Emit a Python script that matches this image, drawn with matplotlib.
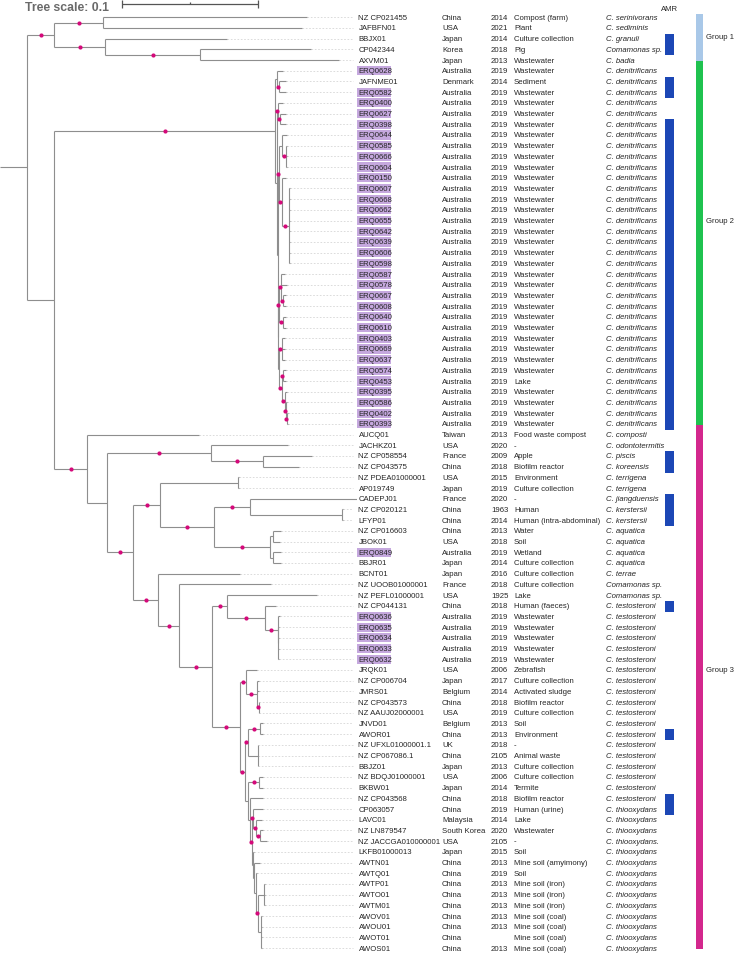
import matplotlib.pyplot as plt
from matplotlib.collections import LineCollection
from matplotlib.patches import Rectangle

plt.rcParams['font.family'] = ['Liberation Sans', 'DejaVu Sans']

# ---- tree (newick, branch lengths in substitutions/site, 100 = supported node) ----
group1_newick = ("((NZ_CP021455:0.1499,JAFBFN01:0.1463)100:0.0358,"
                 "(BBJX01:0.0897,(CP042344:0.0816,AXVM01:0.1022)100:0.0698)100:0.0373)100:0.0201")

group2_newick = (
    "((ERQ0628:0.0044,(JAFNME01:0.0049,ERQ0582:0.0049)100:0.0019):0.0010,"
    "((ERQ0400:0.0032,(ERQ0627:0.0044,ERQ0398:0.0044)100:0.0012)100:0.0012,"
    "(((ERQ0644:0.0037,(ERQ0585:0.0007,ERQ0666:0.0007,ERQ0604:0.0007)100:0.0032):0.0018,"
    "(ERQ0150:0.0032,(ERQ0607:0.0007,ERQ0668:0.0007,ERQ0662:0.0007,ERQ0655:0.0007,"
    "ERQ0642:0.0007,ERQ0639:0.0007,ERQ0606:0.0007,ERQ0598:0.0007)100:0.0054)100:0.0018)100:0.0012,"
    "(((ERQ0587:0.0029,ERQ0578:0.0044,(ERQ0667:0.0022,ERQ0608:0.0022)100:0.0018)100:0.0015,"
    "(ERQ0640:0.0020,ERQ0610:0.0020)100:0.0032)100:0.0007,"
    "((ERQ0403:0.0024,ERQ0669:0.0024,ERQ0637:0.0024)100:0.0018,"
    "((ERQ0574:0.0020,ERQ0453:0.0020)100:0.0012,"
    "(ERQ0395:0.0015,(ERQ0586:0.0011,(ERQ0402:0.0007,ERQ0393:0.0011)100:0.0007)100:0.0007)100:0.0024"
    ")100:0.0018):0.0010):0.0002):0.0007):0.0010)100:0.1624")

group3_newick = (
    "(AUCQ01:0.0819,("
    "(JACHKZ01:0.0564,(NZ_CP058554:0.0356,NZ_CP043575:0.0265)100:0.0382)100:0.0764,"
    "(("
    "(NZ_PDEA01000001:0.0007,AP019749:0.0007):0.0571,"
    "((CADEPJ01:0.0784,(NZ_CP020121:0.0006,LFYP01:0.0006):0.0674)100:0.0262,"
    "((NZ_CP016603:0.0061,JBOK01:0.0054):0.0020,(ERQ0849:0.0061,BBJR01:0.0061):0.0020)100:0.0409"
    ")100:0.0397)100:0.0199,"
    "(BCNT01:0.0601,(NZ_UOOB01000001:0.0674,(("
    "NZ_PEFL01000001:0.0657,(NZ_CP044131:0.0079,(ERQ0636:0.0017,(ERQ0635:0.0005,ERQ0634:0.0005,"
    "ERQ0633:0.0005,ERQ0632:0.0005):0.0004)100:0.0093)100:0.0277)100:0.0110,"
    "(("
    "JRQK01:0.0085,(NZ_CP006704:0.0015,JMRS01:0.0015,(NZ_CP043573:0.0007,NZ_AAUJ02000001:0.0007)100:0.0012)100:0.0081)100:0.0042,"
    "(("
    "(JNVD01:0.0022,AWOR01:0.0022)100:0.0093,(NZ_UFXL01000001.1:0.0003,NZ_CP067086.1:0.0003,BBJZ01:0.0003):0.0074)100:0.0022,"
    "((NZ_BDQJ01000001:0.0027,BKBW01:0.0027)100:0.0088,"
    "(NZ_CP043568:0.0099,("
    "(CP063057:0.0074,(LAVC01:0.0042,(NZ_LN879547:0.0022,NZ_JACCGA010000001:0.0051)100:0.0027)100:0.0024)100:0.0011,"
    "(LKFB01000013:0.0007,(AWTN01:0.0048,(AWTQ01:0.0007,((AWTP01:0.0005,AWTO01:0.0005,AWTM01:0.0005):0.0046,"
    "(AWOV01:0.0004,AWOU01:0.0004,AWOT01:0.0004,AWOS01:0.0004):0.0022)100:0.0015):0.0018):0.0007):0.0007"
    ")100:0.0016):0.0015):0.0022"
    ")100:0.0032)100:0.0204"
    ")100:0.0245)100:0.0152)100:0.0184"
    ")100:0.0191):0.0147)100:0.0243")

tree_newick = "(" + group1_newick + ",(" + group2_newick + "," + group3_newick + "):0.0201):0.0199;"

# ---- metadata, one entry per leaf (top to bottom) ----
ids = ["NZ CP021455", "JAFBFN01", "BBJX01", "CP042344", "AXVM01",
       "ERQ0628", "JAFNME01", "ERQ0582", "ERQ0400", "ERQ0627", "ERQ0398", "ERQ0644",
       "ERQ0585", "ERQ0666", "ERQ0604", "ERQ0150", "ERQ0607", "ERQ0668", "ERQ0662",
       "ERQ0655", "ERQ0642", "ERQ0639", "ERQ0606", "ERQ0598", "ERQ0587", "ERQ0578",
       "ERQ0667", "ERQ0608", "ERQ0640", "ERQ0610", "ERQ0403", "ERQ0669", "ERQ0637",
       "ERQ0574", "ERQ0453", "ERQ0395", "ERQ0586", "ERQ0402", "ERQ0393",
       "AUCQ01", "JACHKZ01", "NZ CP058554", "NZ CP043575", "NZ PDEA01000001", "AP019749",
       "CADEPJ01", "NZ CP020121", "LFYP01", "NZ CP016603", "JBOK01", "ERQ0849", "BBJR01",
       "BCNT01", "NZ UOOB01000001", "NZ PEFL01000001", "NZ CP044131", "ERQ0636", "ERQ0635",
       "ERQ0634", "ERQ0633", "ERQ0632", "JRQK01", "NZ CP006704", "JMRS01", "NZ CP043573",
       "NZ AAUJ02000001", "JNVD01", "AWOR01", "NZ UFXL01000001.1", "NZ CP067086.1", "BBJZ01",
       "NZ BDQJ01000001", "BKBW01", "NZ CP043568", "CP063057", "LAVC01", "NZ LN879547",
       "NZ JACCGA010000001", "LKFB01000013", "AWTN01", "AWTQ01", "AWTP01", "AWTO01",
       "AWTM01", "AWOV01", "AWOU01", "AWOT01", "AWOS01"]

countries = (["China", "USA", "Japan", "Korea", "Japan", "Australia", "Denmark"]
             + ["Australia"] * 32
             + ["Taiwan", "USA", "France", "China", "USA", "Japan", "France", "China", "China",
                "China", "USA", "Australia", "Japan", "Japan", "France", "USA", "China"]
             + ["Australia"] * 5
             + ["USA", "Japan", "Belgium", "China", "USA", "Belgium", "China", "UK", "China",
                "Japan", "USA", "Japan", "China", "China", "Malaysia", "South Korea", "USA", "Japan"]
             + ["China"] * 9)

years = (["2014", "2021", "2014", "2018", "2013", "2019", "2014"] + ["2019"] * 32
         + ["2013", "2020", "2009", "2018", "2015", "2019", "2020", "1963", "2014", "2013",
            "2018", "2019", "2014", "2016", "2018", "1925", "2018"] + ["2019"] * 5
         + ["2006", "2017", "2014", "2018", "2019", "2013", "2013", "2018", "2105", "2013",
            "2006", "2014", "2018", "2019", "2014", "2020", "2105", "2015", "2013", "2019",
            "2013", "2013", "2013", "2013", "2013", "", "2013"])

sources = (["Compost (farm)", "Plant", "Culture collection", "Pig", "Wastewater", "Wastewater",
            "Sediment"] + ["Wastewater"] * 27 + ["Lake"] + ["Wastewater"] * 4
           + ["Food waste compost", "-", "Apple", "Biofilm reactor", "Environment",
              "Culture collection", "-", "Human", "Human (intra-abdominal)", "Water", "Soil",
              "Wetland", "Culture collection", "Culture collection", "Culture collection", "Lake",
              "Human (faeces)"] + ["Wastewater"] * 5
           + ["Zebrafish", "Culture collection", "Activated sludge", "Biofilm reactor",
              "Culture collection", "Soil", "Environment", "-", "Animal waste", "Culture collection",
              "Culture collection", "Termite", "Biofilm reactor", "Human (urine)", "Lake",
              "Wastewater", "-", "Soil", "Mine soil (amyimony)", "Soil"]
           + ["Mine soil (iron)"] * 3 + ["Mine soil (coal)"] * 4)

species = (["C. serinivorans", "C. sediminis", "C. granuli", "Comamonas sp.", "C. badia"]
           + ["C. denitrificans"] * 34
           + ["C. composti", "C. odontotermitis", "C. piscis", "C. koreensis", "C. terrigena",
              "C. terrigena", "C. jiangduensis", "C. kerstersii", "C. kerstersii"]
           + ["C. aquatica"] * 4 + ["C. terrae", "Comamonas sp.", "Comamonas sp."]
           + ["C. testosteroni"] * 19 + ["C. thiooxydans"] * 3 + ["C. thiooxydans."]
           + ["C. thiooxydans"] * 10)

amr = ([0, 0, 1, 1, 0, 0, 1, 1, 0, 0]
       + [1] * 10
       + [1] * 10
       + [1, 1, 1, 1, 1, 1, 1, 1, 1, 0]
       + [0, 1, 1, 0, 0, 1, 1, 1, 0, 0]
       + [0, 0, 0, 0, 0, 1, 0, 0, 0, 0]
       + [0, 0, 0, 0, 0, 0, 0, 1, 0, 0]
       + [0, 0, 0, 1, 1, 0, 0, 0, 0, 0]
       + [0] * 8)

group_names = ["Group 1", "Group 2", "Group 3"]
group_sizes = [5, 34, 49]
group_colors = ["#a9c8e8", "#1fc24f", "#d3288d"]
tree_scale = 0.1


def parse_newick(s):
    pos = 0

    def node():
        nonlocal pos
        children = []
        if s[pos] == "(":
            pos += 1
            children.append(node())
            while s[pos] == ",":
                pos += 1
                children.append(node())
            pos += 1
        start = pos
        while s[pos] not in ":,);":
            pos += 1
        label = s[start:pos]
        length = 0.0
        if s[pos] == ":":
            pos += 1
            start = pos
            while s[pos] not in ",);":
                pos += 1
            length = float(s[start:pos])
        return {"label": label, "length": length, "children": children}

    return node()


root = parse_newick(tree_newick)
leaves = []
nodes = []


def layout(n, x0):
    n["x0"] = x0
    n["x"] = x0 + n["length"]
    nodes.append(n)
    if n["children"]:
        for c in n["children"]:
            layout(c, n["x"])
        n["y"] = (n["children"][0]["y"] + n["children"][-1]["y"]) / 2
    else:
        n["y"] = len(leaves)
        leaves.append(n)


layout(root, 0.0)
assert [lf["label"].replace("_", " ") for lf in leaves] == ids

# ---- figure ----
W, H = 734, 954
fig = plt.figure(figsize=(W / 100, H / 100), dpi=100)
row_top, row_bottom = -1.71, 87.45

ax = fig.add_axes([0, 0, 1, 1])
ax.set_xlim(0, W)
ax.set_ylim(row_bottom, row_top)
ax.axis("off")

tree_px = 357
tax = fig.add_axes([0, 0, tree_px / W, 1])
tax.set_xlim(0, 0.2625)
tax.set_ylim(row_bottom, row_top)
tax.axis("off")

branch_col = "#8e8e8e"
segs = []
dots = []
for n in nodes:
    segs.append([(n["x0"], n["y"]), (n["x"], n["y"])])
    if n["children"]:
        segs.append([(n["x"], n["children"][0]["y"]), (n["x"], n["children"][-1]["y"])])
        if n["label"] == "100":
            dots.append(((n["x0"] + n["x"]) / 2, n["y"]))
tax.add_collection(LineCollection(segs, colors=branch_col, linewidths=0.8, zorder=2))

# leader lines from tips to labels
lead = [[(lf["x"], lf["y"]), (0.2598, lf["y"])] for lf in leaves if lf["x"] < 0.2595]
tax.add_collection(LineCollection(lead, colors="#d6d6d6", linewidths=0.6,
                                  linestyles=(0, (2.0, 2.0)), zorder=1))
tax.scatter([d[0] for d in dots], [d[1] for d in dots], s=9, color="#d4097a",
            zorder=3, linewidths=0)

# scale bar
sb_x0, sb_y = 0.0897, -1.24
sb = [[(sb_x0, sb_y), (sb_x0 + tree_scale, sb_y)],
      [(sb_x0, -1.58), (sb_x0, -0.88)],
      [(sb_x0 + tree_scale, -1.58), (sb_x0 + tree_scale, -0.88)],
      [(sb_x0 + tree_scale / 2, -1.45), (sb_x0 + tree_scale / 2, sb_y)]]
tax.add_collection(LineCollection(sb, colors="#555555", linewidths=0.9))
ax.text(25, -0.98, "Tree scale: 0.1", fontsize=8.8, fontweight="bold", color="#6a6a6a",
        ha="left", va="center")

# label columns
fs = 5.6
tcol = "#262626"
for i, name in enumerate(ids):
    if name.startswith("ERQ"):
        ax.add_patch(Rectangle((356.5, i - 0.43), 34.5, 0.86, facecolor="#c5a8de",
                               edgecolor="none", zorder=1))
    ax.text(358.5, i, name, fontsize=fs, color=tcol, ha="left", va="center", zorder=2)
    ax.text(442, i, countries[i], fontsize=fs, color=tcol, ha="left", va="center")
    ax.text(491, i, years[i], fontsize=fs, color=tcol, ha="left", va="center")
    ax.text(514, i, sources[i], fontsize=fs, color=tcol, ha="left", va="center")
    ax.text(606, i, species[i], fontsize=fs, color=tcol, ha="left", va="center",
            style="italic")

# AMR column (merge consecutive rows)
i = 0
while i < len(amr):
    if amr[i]:
        j = i
        while j + 1 < len(amr) and amr[j + 1]:
            j += 1
        ax.add_patch(Rectangle((665.3, i - 0.45), 8.7, j - i + 1, facecolor="#1c47b5",
                               edgecolor="none"))
        i = j + 1
    else:
        i += 1
ax.text(669.5, -0.85, "AMR", fontsize=fs, color=tcol, ha="center", va="center")

# group strip
label_rows = [1.8, 19.0, 61.0]
start = 0
for k, (name, size, col, lr) in enumerate(zip(group_names, group_sizes, group_colors, label_rows)):
    top = start - 0.9 if k else start - 0.3
    ax.add_patch(Rectangle((696.3, top), 6.5, start + size - 0.9 - top,
                           facecolor=col, edgecolor="none"))
    ax.text(706, lr, name, fontsize=fs, color=tcol, ha="left", va="center")
    start += size

fig.savefig("out.png", dpi=100)
